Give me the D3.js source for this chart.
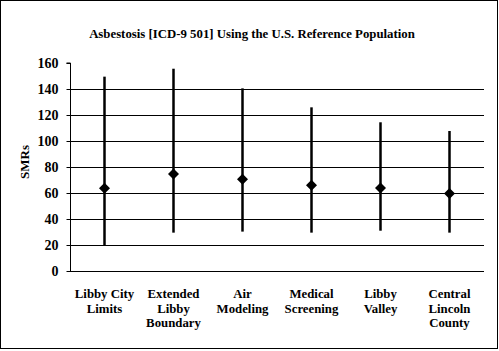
<!DOCTYPE html>
<html>
<head>
<meta charset="utf-8">
<script src="https://cdn.jsdelivr.net/npm/d3@7"></script>
<style>
  body { margin: 0; background: #fff; }
  text { font-family: "Liberation Serif", "Times New Roman", serif; font-weight: bold; fill: #000; }
</style>
</head>
<body>
<div id="vis-container"></div>
<script>
// data
let categories = [
  ["Libby City", "Limits"],
  ["Extended", "Libby", "Boundary"],
  ["Air", "Modeling"],
  ["Medical", "Screening"],
  ["Libby", "Valley"],
  ["Central", "Lincoln", "County"]
];
let smr   = [63.7, 74.7, 70.5, 65.9, 63.8, 59.7];
let upper = [149.5, 155.6, 140.5, 125.9, 114.4, 107.7];
let lower = [20, 29.5, 30.3, 29.5, 31, 29.5];
let yTicks = [0, 20, 40, 60, 80, 100, 120, 140, 160];

let W = 499, H = 351;
let margin = {top: 63, right: 15, bottom: 80, left: 70};
let width = W - margin.left - margin.right;
let height = H - margin.top - margin.bottom;

let svg = d3.select("#vis-container")
  .append("svg")
  .attr("width", W)
  .attr("height", H);

// outer frame
svg.append("rect")
  .attr("x", 0.5).attr("y", 0.5)
  .attr("width", 497).attr("height", 348)
  .attr("fill", "none")
  .attr("stroke", "#000")
  .attr("stroke-width", 1);

// title
svg.append("text")
  .attr("x", 252)
  .attr("y", 38)
  .attr("text-anchor", "middle")
  .attr("font-size", "12.8px")
  .text("Asbestosis [ICD-9 501] Using the U.S. Reference Population");

let g = svg.append("g")
  .attr("transform", `translate(${margin.left}, ${margin.top})`);

let idx = d3.range(categories.length);

let x = d3.scaleBand()
  .domain(idx)
  .range([0, width]);

let y = d3.scaleLinear()
  .domain([0, 160])
  .range([height, 0]);

// gridlines (none at top)
g.selectAll("line.grid")
  .data(yTicks.filter(d => d > 0 && d < 160))
  .enter()
  .append("line")
  .attr("class", "grid")
  .attr("x1", 0).attr("x2", width)
  .attr("y1", d => Math.round(y(d)) + 0.5)
  .attr("y2", d => Math.round(y(d)) + 0.5)
  .attr("stroke", "#000")
  .attr("stroke-width", 1);

// y axis
let yAxis = d3.axisLeft(y)
  .tickValues(yTicks)
  .tickSize(4)
  .tickPadding(8)
  .tickFormat(d3.format("d"));

let yAxisGroup = g.append("g")
  .attr("class", "y axis")
  .attr("transform", "translate(0.5,0)")
  .call(yAxis);
yAxisGroup.select(".domain").attr("d", `M-4,${y(160)}H0V${height}`);
yAxisGroup.selectAll("text").attr("font-size", "14px");
yAxisGroup.selectAll("line, path").attr("stroke", "#000");

// x axis line
g.append("line")
  .attr("x1", 0).attr("x2", width)
  .attr("y1", height + 0.5).attr("y2", height + 0.5)
  .attr("stroke", "#000");

// axis label
svg.append("text")
  .attr("transform", `translate(29, 162) rotate(-90)`)
  .attr("text-anchor", "middle")
  .attr("font-size", "13px")
  .text("SMRs");

// error bars
g.selectAll("line.err")
  .data(idx)
  .enter()
  .append("line")
  .attr("class", "err")
  .attr("x1", i => x(i) + x.bandwidth() / 2)
  .attr("x2", i => x(i) + x.bandwidth() / 2)
  .attr("y1", i => y(upper[i]))
  .attr("y2", i => y(lower[i]))
  .attr("stroke", "#000")
  .attr("stroke-width", 2.5);

// diamonds
let r = 5.5;
g.selectAll("path.pt")
  .data(idx)
  .enter()
  .append("path")
  .attr("class", "pt")
  .attr("transform", i => `translate(${x(i) + x.bandwidth() / 2}, ${y(smr[i])})`)
  .attr("d", `M0,${-r}L${r},0L0,${r}L${-r},0Z`)
  .attr("fill", "#000");

// category labels
let labels = g.selectAll("text.cat")
  .data(idx)
  .enter()
  .append("text")
  .attr("class", "cat")
  .attr("text-anchor", "middle")
  .attr("font-size", "12.8px")
  .attr("x", i => x(i) + x.bandwidth() / 2)
  .attr("y", height + 27);

labels.selectAll("tspan")
  .data(i => categories[i].map(s => ({s: s, cx: x(i) + x.bandwidth() / 2})))
  .enter()
  .append("tspan")
  .attr("x", d => d.cx)
  .attr("dy", (d, j) => j === 0 ? 0 : 14.5)
  .text(d => d.s);
</script>
</body>
</html>
